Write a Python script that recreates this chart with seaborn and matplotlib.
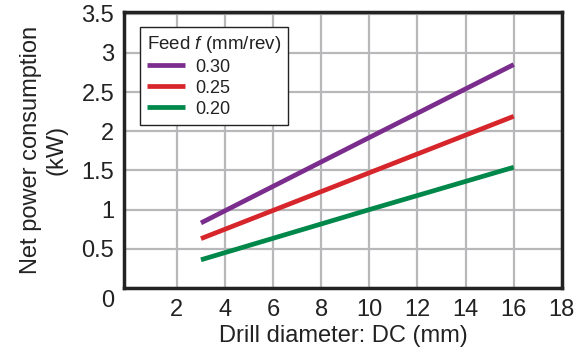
import numpy as np
import pandas as pd
import matplotlib
matplotlib.use('Agg')
import matplotlib.pyplot as plt
import matplotlib.transforms as mtransforms
import seaborn as sns

# values
diameter = [3, 10, 16]
power_030 = [0.83, 1.92, 2.85]
power_025 = [0.63, 1.47, 2.19]
power_020 = [0.36, 1.00, 1.54]
feeds = ['0.30', '0.25', '0.20']
x_ticks = [2, 4, 6, 8, 10, 12, 14, 16, 18]
y_ticks = [0, 0.5, 1, 1.5, 2, 2.5, 3, 3.5]
y_tick_labels = ['0', '0.5', '1', '1.5', '2', '2.5', '3', '3.5']

df = pd.DataFrame({
    'diameter': diameter * 3,
    'power': power_030 + power_025 + power_020,
    'feed': [f for f in feeds for _ in diameter],
})

sns.set_theme(style='white')
plt.rcParams['font.family'] = ['Liberation Sans', 'DejaVu Sans']
plt.rcParams['mathtext.fontset'] = 'custom'
plt.rcParams['mathtext.it'] = 'Liberation Sans:italic'
plt.rcParams['mathtext.rm'] = 'Liberation Sans'

colors = {'0.30': '#7b2d8e', '0.25': '#d7262b', '0.20': '#00874a'}
text_color = '#222222'

fig = plt.figure(figsize=(5.81, 3.54), dpi=100)
ax = fig.add_axes([0.2134, 0.1864, 0.7536, 0.7796])
ax.set_axisbelow(True)

sns.lineplot(data=df, x='diameter', y='power', hue='feed', hue_order=feeds,
             palette=colors, linewidth=3.4, solid_capstyle='butt', ax=ax)

ax.set_xlim(-0.2, 18)
ax.set_ylim(0, 3.52)
ax.set_xticks(x_ticks)
ax.set_yticks(y_ticks)
ax.set_yticklabels(y_tick_labels)
ax.tick_params(axis='both', length=0, labelsize=17, colors=text_color)
ax.tick_params(axis='x', pad=8)
ax.tick_params(axis='y', pad=7)

ax.grid(True, color='#b8b8bb', linewidth=1.6)
for sp in ax.spines.values():
    sp.set_color(text_color)
    sp.set_linewidth(2.5)

# the shared origin label sits a little below the corner
zero = ax.get_yticklabels()[0]
zero.set_transform(zero.get_transform() +
                   mtransforms.ScaledTranslation(0, -10 / 100, fig.dpi_scale_trans))

ax.set_xlabel('Drill diameter: DC (mm)', fontsize=17, color=text_color, labelpad=3)
ax.set_ylabel('Net power consumption\n(kW)', fontsize=17, color=text_color,
              labelpad=10, linespacing=1.2)

leg = ax.legend(title='Feed $\\mathit{f}$ (mm/rev)', loc='upper left',
                bbox_to_anchor=(0.036, 0.946), fontsize=13, title_fontsize=13.5,
                frameon=True, fancybox=False, handlelength=2.1,
                borderpad=0.38, labelspacing=0.22, handletextpad=0.6,
                borderaxespad=0)
leg.get_frame().set_edgecolor(text_color)
leg.get_frame().set_linewidth(1.0)
leg.get_frame().set_alpha(1)
leg._legend_box.align = 'left'
leg.get_title().set_color(text_color)
for t in leg.get_texts():
    t.set_color(text_color)
for line in leg.get_lines():
    line.set_linewidth(3.4)

fig.savefig('out.png', dpi=100)
